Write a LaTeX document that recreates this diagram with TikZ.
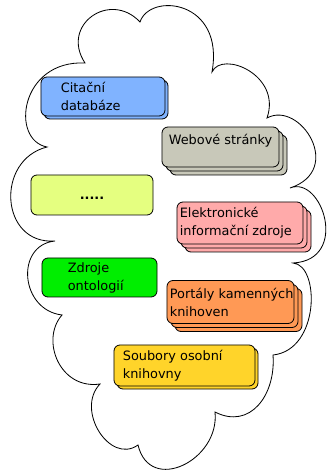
\documentclass[tikz,border=0pt]{standalone}
\usepackage{fontspec}
\setmainfont{DejaVu Sans}
\usepackage{tikz}
\usetikzlibrary{positioning,shadows}
\definecolor{citblue}{RGB}{128,179,255}
\definecolor{webgray}{RGB}{200,200,185}
\definecolor{dotlime}{RGB}{229,255,128}
\definecolor{elepink}{RGB}{255,170,170}
\definecolor{ontgreen}{RGB}{0,238,0}
\definecolor{pororange}{RGB}{255,153,85}
\definecolor{souyellow}{RGB}{255,212,42}

\tikzset{
  srcbox/.style={draw=black, line width=0.7pt, rounded corners=0.18cm, inner sep=0pt},
  srctext/.style={inner sep=0pt, align=left, font=\fontsize{11}{15.3}\selectfont},
  onecopy/.style={copy shadow={shadow xshift=0.09cm, shadow yshift=-0.09cm}},
  twocopy/.style={copy shadow={shadow xshift=0.24cm, shadow yshift=-0.24cm},
                  copy shadow={shadow xshift=0.12cm, shadow yshift=-0.12cm}},
  cloudline/.style={draw=black, line width=0.7pt}
}

\begin{document}
\begin{tikzpicture}[x=0.03cm, y=0.03cm]
    \useasboundingbox (0,0) rectangle (328,470);

    % cloud
    \draw[cloudline, fill=white] (85,407) .. controls (60,445) and (110,480) .. (140,448)
        .. controls (150,478) and (225,470) .. (212,398)
        .. controls (222,420) and (282,395) .. (267,352)
        .. controls (300,370) and (345,300) .. (290,282)
        .. controls (322,295) and (350,210) .. (293,207)
        .. controls (320,205) and (320,120) .. (273,115)
        .. controls (276,75) and (250,40) .. (215,58)
        .. controls (220,10) and (150,-25) .. (138,25)
        .. controls (110,5) and (75,60) .. (100,86)
        .. controls (60,80) and (40,130) .. (62,155)
        .. controls (20,160) and (15,225) .. (55,229)
        .. controls (0,225) and (-5,310) .. (47,323)
        .. controls (10,330) and (20,410) .. (85,407) -- cycle;

    % boxes
    \node[srcbox, onecopy, fill=citblue, minimum width=3.72cm, minimum height=1.17cm] (cit) at (103,373.5) {};
    \node[srcbox, twocopy, fill=webgray, minimum width=3.51cm, minimum height=1.2cm] (web) at (220.5,323) {};
    \node[srcbox, fill=dotlime, minimum width=3.66cm, minimum height=1.2cm, text height=1.0em, text depth=0.2em,
          font=\fontsize{11}{15.3}\selectfont\bfseries] (dots) at (92,275) {.....};
    \node[srcbox, twocopy, fill=elepink, minimum width=3.78cm, minimum height=1.26cm] (ele) at (240,247) {};
    \node[srcbox, fill=ontgreen, minimum width=3.45cm, minimum height=1.17cm] (ont) at (99.5,192.5) {};
    \node[srcbox, twocopy, fill=pororange, minimum width=3.81cm, minimum height=1.29cm] (por) at (230.5,168) {};
    \node[srcbox, onecopy, fill=souyellow, minimum width=4.23cm, minimum height=1.23cm] (sou) at (184.5,104.5) {};

    % texts
    \node[srctext, right=0.6cm of cit.west] (citT) {Citační\\databáze};
    \node[srctext, right=0.21cm of web.west, yshift=0.18cm] (webT) {Webové stránky};
    \node[srctext, right=0.09cm of ele.west] (eleT) {Elektronické\\informační zdroje};
    \node[srctext, right=0.78cm of ont.west] (ontT) {Zdroje\\ontologií};
    \node[srctext, right=0.09cm of por.west] (porT) {Portály kamenných\\knihoven};
    \node[srctext, right=0.27cm of sou.west] (souT) {Soubory osobní\\knihovny};
\end{tikzpicture}
\end{document}
